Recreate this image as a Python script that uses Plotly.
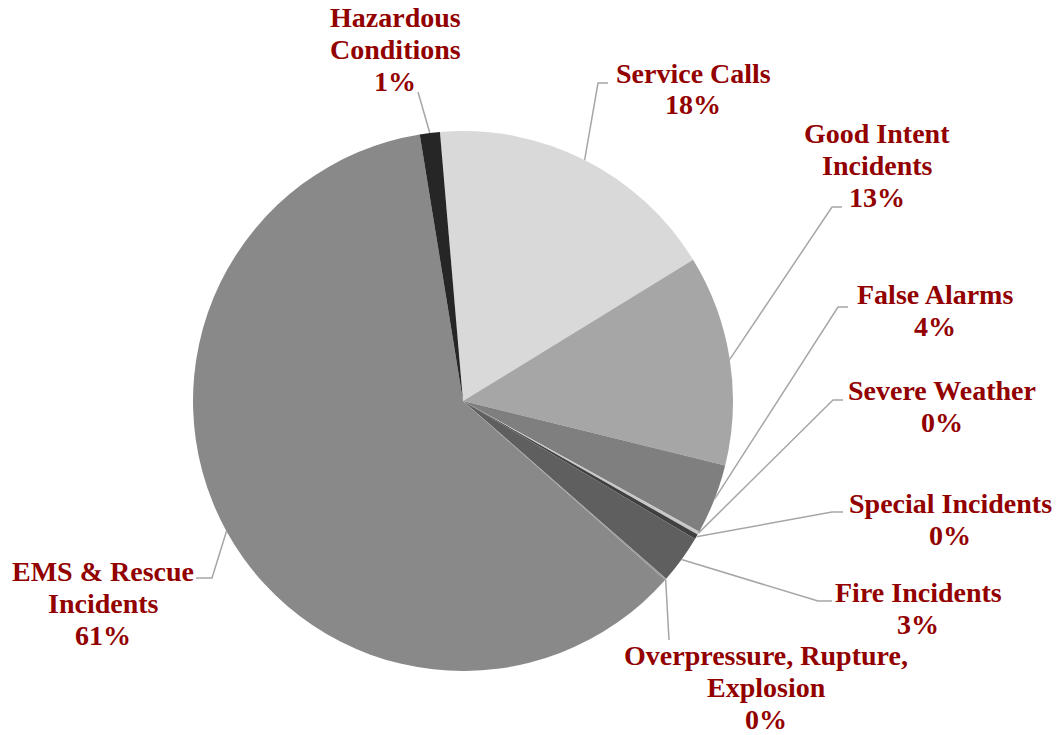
import math
import plotly.graph_objects as go

categories = ["Service Calls", "Good Intent Incidents", "False Alarms", "Severe Weather",
              "Special Incidents", "Fire Incidents", "Overpressure, Rupture, Explosion",
              "EMS & Rescue Incidents", "Hazardous Conditions"]
values = [17.6, 12.6, 4.2, 0.2, 0.3, 2.9, 0.1, 60.9, 1.2]
label_lines = [["Service Calls"], ["Good Intent", "Incidents"], ["False Alarms"], ["Severe Weather"],
               ["Special Incidents"], ["Fire Incidents"], ["Overpressure, Rupture,", "Explosion"],
               ["EMS & Rescue", "Incidents"], ["Hazardous", "Conditions"]]
colors = ["#d9d9d9", "#a6a6a6", "#7f7f7f", "#c8c8c8", "#404040", "#5f5f5f", "#9a9a9a",
          "#898989", "#262626"]

W, H = 1058, 735
CX, CY, R = 463, 401, 270
ROT = -4.9
LINE = 32

# label center x and first line y (px), leader elbow points (px)
label_pos = [(693, 73), (877, 133), (935, 294), (942, 390), (950, 503), (918, 592),
             (766, 655), (103, 571), (395, 18)]
elbows = [[(598, 83), (608, 83)], [(832, 207), (842, 207)], [(838, 307), (848, 307)],
          [(833, 400), (843, 400)], [(832, 512), (843, 512)], [(818, 601), (832, 601)],
          [(669, 640)], [(212, 578), (196, 578)], [(418, 92)]]

fig = go.Figure(go.Pie(
    labels=categories, values=values, sort=False, direction="clockwise", rotation=ROT,
    marker=dict(colors=colors, line=dict(width=0)), textinfo="none", hoverinfo="label+percent",
    domain=dict(x=[(CX - R) / W, (CX + R) / W], y=[1 - (CY + R) / H, 1 - (CY - R) / H]),
    showlegend=False,
))

def px(x, y):
    return x / W, 1 - y / H

total = sum(values)
cum = 0.0
shapes = []
annotations = []
for i, v in enumerate(values):
    mid = ROT + (cum + v / 2) / total * 360
    cum += v
    a = math.radians(mid)
    sx, sy = CX + R * math.sin(a), CY - R * math.cos(a)
    pts = [(sx, sy)] + elbows[i]
    path = "M " + " L ".join("%.5f,%.5f" % px(x, y) for x, y in pts)
    shapes.append(dict(type="path", xref="paper", yref="paper", path=path,
                       line=dict(color="#a6a6a6", width=1.5)))
    pct = round(v / total * 100)
    lines = label_lines[i] + ["%d%%" % pct]
    lx, ly = label_pos[i]
    for k, t in enumerate(lines):
        ax, ay = px(lx, ly + k * LINE)
        annotations.append(dict(xref="paper", yref="paper", x=ax, y=ay, xanchor="center",
                                yanchor="middle", showarrow=False, align="center",
                                text="<b>%s</b>" % t,
                                font=dict(family="Liberation Serif", size=28, color="#920000")))

fig.update_layout(width=W, height=H, margin=dict(l=0, r=0, t=0, b=0),
                  paper_bgcolor="white", plot_bgcolor="white",
                  shapes=shapes, annotations=annotations)
fig.write_html("out.html", config={"displayModeBar": False},
               post_script="document.body.style.margin='0';")
